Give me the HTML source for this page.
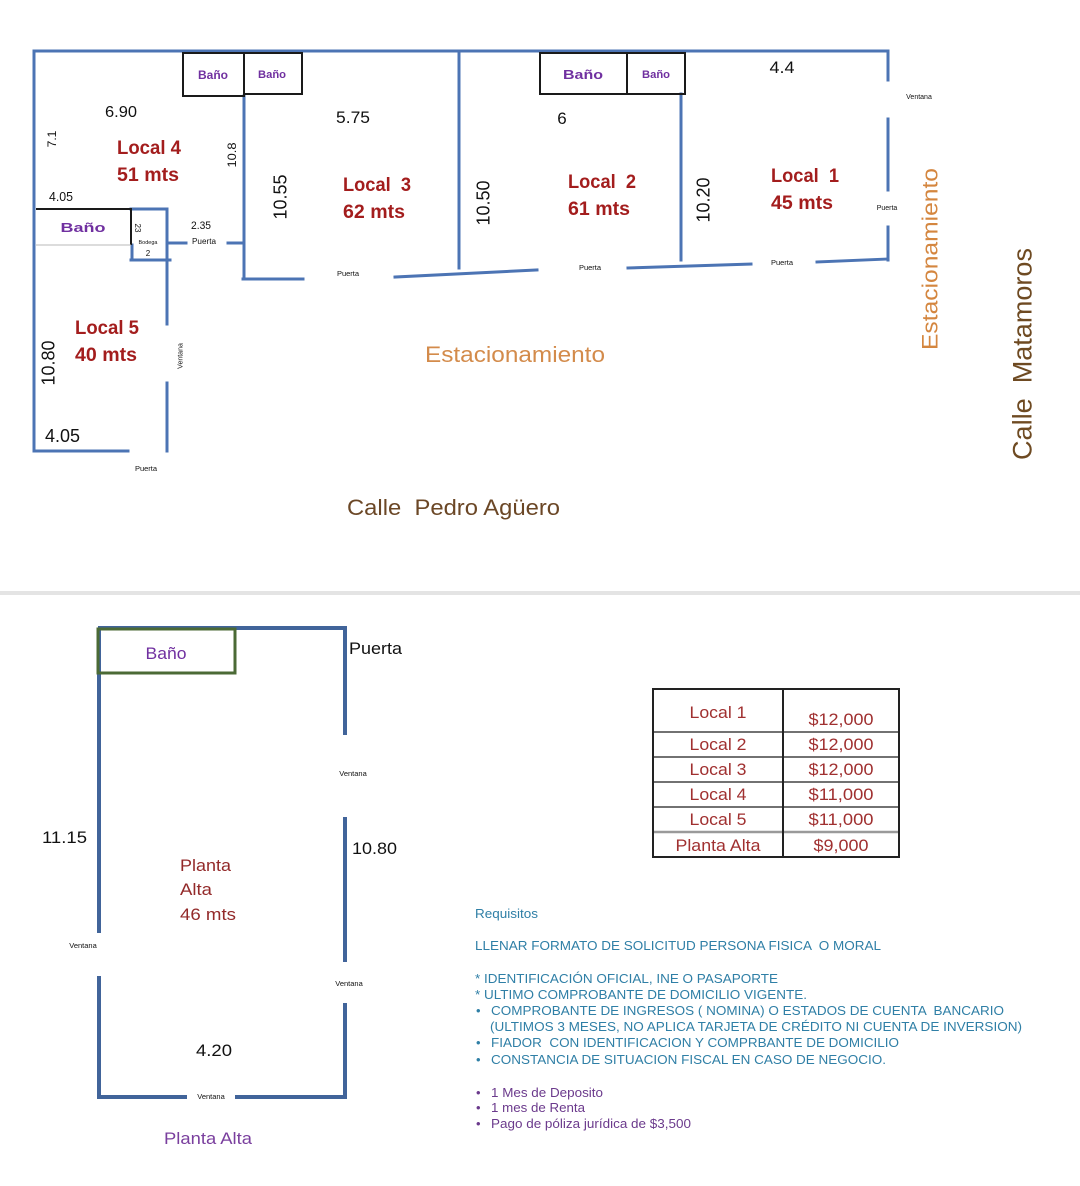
<!DOCTYPE html>
<html>
<head>
<meta charset="utf-8">
<style>
  html,body{margin:0;padding:0;background:#fff;}
  svg{display:block;}
  text{font-family:"Liberation Sans", sans-serif;}
</style>
</head>
<body>
<svg width="1080" height="1186" viewBox="0 0 1080 1186" xmlns="http://www.w3.org/2000/svg">
  <rect x="0" y="0" width="1080" height="1186" fill="#ffffff"/>

  <!-- ============ TOP PLAN WALLS ============ -->
  <g stroke="#4c74b4" stroke-width="3" fill="none" stroke-linecap="square">
    <path d="M34,51 H888"/>
    <path d="M34,51 V451"/>
    <path d="M34,451 H128"/>
    <!-- bodega -->
    <path d="M131,209 H167"/>
    <path d="M132,245 V260"/>
    <path d="M131,260 H170"/>
    <path d="M167,209 V324"/>
    <path d="M167,383 V451"/>
    <path d="M167,243 H186"/>
    <path d="M228,243 H244"/>
    <!-- local 3 left -->
    <path d="M244,96 V279"/>
    <path d="M243,279 H303"/>
    <path d="M395,277 L537,270"/>
    <path d="M459,51 V268"/>
    <path d="M628,268 L751,264"/>
    <path d="M681,94 V260"/>
    <path d="M817,262 L888,259"/>
    <path d="M888,51 V80"/>
    <path d="M888,119 V190"/>
    <path d="M888,227 V260"/>
  </g>

  <!-- Baño boxes -->
  <g stroke="#1a1a1a" stroke-width="2" fill="none">
    <rect x="183" y="53" width="61" height="43"/>
    <rect x="244" y="53" width="58" height="41"/>
    <rect x="540" y="53" width="87" height="41"/>
    <rect x="627" y="53" width="58" height="41"/>
    <path d="M36,209 H131 V245"/>
  </g>
  <path d="M36,245 H131" stroke="#b8b8b8" stroke-width="1"/>

  <g fill="#7030a0" font-weight="bold" text-anchor="middle">
    <text x="213" y="79" font-size="12" textLength="30" lengthAdjust="spacingAndGlyphs">Baño</text>
    <text x="272" y="78" font-size="11" textLength="28" lengthAdjust="spacingAndGlyphs">Baño</text>
    <text x="583" y="79" font-size="13" textLength="40" lengthAdjust="spacingAndGlyphs">Baño</text>
    <text x="656" y="78" font-size="11" textLength="28" lengthAdjust="spacingAndGlyphs">Baño</text>
    <text x="83" y="232" font-size="13" textLength="45" lengthAdjust="spacingAndGlyphs">Baño</text>
  </g>

  <!-- dimensions (black) -->
  <g fill="#111">
    <text x="121" y="117" font-size="16" text-anchor="middle" textLength="32" lengthAdjust="spacingAndGlyphs">6.90</text>
    <text transform="translate(52,139) rotate(-90)" font-size="12" text-anchor="middle" dy="0.35em">7.1</text>
    <text transform="translate(232,155) rotate(-90)" font-size="12" text-anchor="middle" dy="0.35em" textLength="25" lengthAdjust="spacingAndGlyphs">10.8</text>
    <text transform="translate(280,197) rotate(-90)" font-size="18" text-anchor="middle" dy="0.35em" textLength="45" lengthAdjust="spacingAndGlyphs">10.55</text>
    <text x="49" y="201" font-size="13" textLength="24" lengthAdjust="spacingAndGlyphs">4.05</text>
    <text transform="translate(138,228) rotate(90)" font-size="8" text-anchor="middle" dy="0.35em">23</text>
    <text x="148" y="244" font-size="5.5" text-anchor="middle">Bodega</text>
    <text x="148" y="256" font-size="8" text-anchor="middle">2</text>
    <text x="201" y="229" font-size="11" text-anchor="middle" textLength="20" lengthAdjust="spacingAndGlyphs">2.35</text>
    <text x="204" y="244" font-size="8" text-anchor="middle" textLength="24" lengthAdjust="spacingAndGlyphs">Puerta</text>
    <text x="353" y="123" font-size="17" text-anchor="middle" textLength="34" lengthAdjust="spacingAndGlyphs">5.75</text>
    <text transform="translate(483,203) rotate(-90)" font-size="18" text-anchor="middle" dy="0.35em" textLength="45" lengthAdjust="spacingAndGlyphs">10.50</text>
    <text x="348" y="276" font-size="7.5" text-anchor="middle">Puerta</text>
    <text x="562" y="124" font-size="17" text-anchor="middle">6</text>
    <text x="590" y="270" font-size="7.5" text-anchor="middle">Puerta</text>
    <text x="782" y="73" font-size="17" text-anchor="middle" textLength="25" lengthAdjust="spacingAndGlyphs">4.4</text>
    <text transform="translate(703,200) rotate(-90)" font-size="18" text-anchor="middle" dy="0.35em" textLength="45" lengthAdjust="spacingAndGlyphs">10.20</text>
    <text x="782" y="265" font-size="7.5" text-anchor="middle">Puerta</text>
    <text x="919" y="99" font-size="7" text-anchor="middle">Ventana</text>
    <text x="887" y="210" font-size="7" text-anchor="middle">Puerta</text>
    <text transform="translate(48,363) rotate(-90)" font-size="18" text-anchor="middle" dy="0.35em" textLength="45" lengthAdjust="spacingAndGlyphs">10.80</text>
    <text x="45" y="442" font-size="18" textLength="35" lengthAdjust="spacingAndGlyphs">4.05</text>
    <text transform="translate(180,356) rotate(-90)" font-size="7" text-anchor="middle" dy="0.35em">Ventana</text>
    <text x="146" y="471" font-size="7.5" text-anchor="middle">Puerta</text>
  </g>

  <!-- Local labels -->
  <g fill="#a31d1d" font-weight="bold" font-size="19">
    <text x="117" y="154" textLength="64" lengthAdjust="spacingAndGlyphs">Local 4</text>
    <text x="117" y="181" textLength="62" lengthAdjust="spacingAndGlyphs">51 mts</text>
    <text x="343" y="191" textLength="68" lengthAdjust="spacingAndGlyphs" xml:space="preserve">Local  3</text>
    <text x="343" y="218" textLength="62" lengthAdjust="spacingAndGlyphs">62 mts</text>
    <text x="568" y="188" textLength="68" lengthAdjust="spacingAndGlyphs" xml:space="preserve">Local  2</text>
    <text x="568" y="215" textLength="62" lengthAdjust="spacingAndGlyphs">61 mts</text>
    <text x="771" y="182" textLength="68" lengthAdjust="spacingAndGlyphs" xml:space="preserve">Local  1</text>
    <text x="771" y="209" textLength="62" lengthAdjust="spacingAndGlyphs">45 mts</text>
    <text x="75" y="334" textLength="64" lengthAdjust="spacingAndGlyphs">Local 5</text>
    <text x="75" y="361" textLength="62" lengthAdjust="spacingAndGlyphs">40 mts</text>
  </g>

  <!-- Street / parking -->
  <text x="425" y="362" font-size="22" fill="#d38b4b" textLength="180" lengthAdjust="spacingAndGlyphs">Estacionamiento</text>
  <text transform="translate(930,259) rotate(-90)" font-size="22" fill="#d4863f" text-anchor="middle" dy="0.35em" textLength="182" lengthAdjust="spacingAndGlyphs">Estacionamiento</text>
  <text transform="translate(1022,354) rotate(-90)" font-size="27" fill="#6e4a22" text-anchor="middle" dy="0.35em" textLength="212" lengthAdjust="spacingAndGlyphs" xml:space="preserve">Calle  Matamoros</text>
  <text x="347" y="515" font-size="22" fill="#6b4726" textLength="213" lengthAdjust="spacingAndGlyphs" xml:space="preserve">Calle  Pedro Agüero</text>

  <!-- separator -->
  <rect x="0" y="591" width="1080" height="4" fill="#e4e4e4"/>

  <!-- ============ BOTTOM PLAN ============ -->
  <g stroke="#41649a" stroke-width="4" fill="none">
    <path d="M98,628 H345 V735"/>
    <path d="M345,817 V962"/>
    <path d="M345,1003 V1097 H235"/>
    <path d="M187,1097 H99 V976"/>
    <path d="M99,933 V628"/>
  </g>
  <rect x="98" y="629" width="137" height="44" stroke="#4b6a35" stroke-width="3" fill="none"/>
  <text x="166" y="659" font-size="17" fill="#7030a0" text-anchor="middle" textLength="41" lengthAdjust="spacingAndGlyphs">Baño</text>

  <g fill="#111">
    <text x="349" y="654" font-size="17" textLength="53" lengthAdjust="spacingAndGlyphs">Puerta</text>
    <text x="353" y="776" font-size="7.5" text-anchor="middle">Ventana</text>
    <text x="42" y="843" font-size="17" textLength="45" lengthAdjust="spacingAndGlyphs">11.15</text>
    <text x="352" y="854" font-size="17" textLength="45" lengthAdjust="spacingAndGlyphs">10.80</text>
    <text x="83" y="948" font-size="7.5" text-anchor="middle">Ventana</text>
    <text x="349" y="986" font-size="7.5" text-anchor="middle">Ventana</text>
    <text x="196" y="1056" font-size="17" textLength="36" lengthAdjust="spacingAndGlyphs">4.20</text>
    <text x="211" y="1099" font-size="7.5" text-anchor="middle">Ventana</text>
  </g>
  <g fill="#932a2a" font-size="17">
    <text x="180" y="871" textLength="51" lengthAdjust="spacingAndGlyphs">Planta</text>
    <text x="180" y="895" textLength="32" lengthAdjust="spacingAndGlyphs">Alta</text>
    <text x="180" y="920" textLength="56" lengthAdjust="spacingAndGlyphs">46 mts</text>
  </g>
  <text x="164" y="1144" font-size="17" fill="#7a3f9e" textLength="88" lengthAdjust="spacingAndGlyphs">Planta Alta</text>

  <!-- ============ TABLE ============ -->
  <g fill="none">
    <path d="M653,732 H899 M653,757 H899 M653,782 H899 M653,807 H899" stroke="#444" stroke-width="1.5"/>
    <path d="M653,832 H899" stroke="#9a9a9a" stroke-width="2.5"/>
    <path d="M783,689 V857" stroke="#222" stroke-width="2"/>
    <rect x="653" y="689" width="246" height="168" stroke="#222" stroke-width="2"/>
  </g>
  <g fill="#a03030" font-size="17" text-anchor="middle">
    <text x="718" y="718" textLength="57" lengthAdjust="spacingAndGlyphs">Local 1</text>
    <text x="841" y="725" textLength="65" lengthAdjust="spacingAndGlyphs">$12,000</text>
    <text x="718" y="750" textLength="57" lengthAdjust="spacingAndGlyphs">Local 2</text>
    <text x="841" y="750" textLength="65" lengthAdjust="spacingAndGlyphs">$12,000</text>
    <text x="718" y="775" textLength="57" lengthAdjust="spacingAndGlyphs">Local 3</text>
    <text x="841" y="775" textLength="65" lengthAdjust="spacingAndGlyphs">$12,000</text>
    <text x="718" y="800" textLength="57" lengthAdjust="spacingAndGlyphs">Local 4</text>
    <text x="841" y="800" textLength="65" lengthAdjust="spacingAndGlyphs">$11,000</text>
    <text x="718" y="825" textLength="57" lengthAdjust="spacingAndGlyphs">Local 5</text>
    <text x="841" y="825" textLength="65" lengthAdjust="spacingAndGlyphs">$11,000</text>
    <text x="718" y="851" textLength="85" lengthAdjust="spacingAndGlyphs">Planta Alta</text>
    <text x="841" y="851" textLength="55" lengthAdjust="spacingAndGlyphs">$9,000</text>
  </g>

  <!-- ============ REQUIREMENTS ============ -->
  <g fill="#2f7fa6" font-size="13">
    <text x="475" y="918" font-size="12.5" textLength="63" lengthAdjust="spacingAndGlyphs">Requisitos</text>
    <text x="475" y="950" textLength="406" lengthAdjust="spacingAndGlyphs" xml:space="preserve">LLENAR FORMATO DE SOLICITUD PERSONA FISICA  O MORAL</text>
    <text x="475" y="983" textLength="303" lengthAdjust="spacingAndGlyphs">* IDENTIFICACIÓN OFICIAL, INE O PASAPORTE</text>
    <text x="475" y="999" textLength="332" lengthAdjust="spacingAndGlyphs">* ULTIMO COMPROBANTE DE DOMICILIO VIGENTE.</text>
    <text x="476" y="1015">•</text>
    <text x="491" y="1015" textLength="513" lengthAdjust="spacingAndGlyphs" xml:space="preserve">COMPROBANTE DE INGRESOS ( NOMINA) O ESTADOS DE CUENTA  BANCARIO</text>
    <text x="490" y="1031" textLength="532" lengthAdjust="spacingAndGlyphs">(ULTIMOS 3 MESES, NO APLICA TARJETA DE CRÉDITO NI CUENTA DE INVERSION)</text>
    <text x="476" y="1047">•</text>
    <text x="491" y="1047" textLength="408" lengthAdjust="spacingAndGlyphs" xml:space="preserve">FIADOR  CON IDENTIFICACION Y COMPRBANTE DE DOMICILIO</text>
    <text x="476" y="1064">•</text>
    <text x="491" y="1064" textLength="395" lengthAdjust="spacingAndGlyphs">CONSTANCIA DE SITUACION FISCAL EN CASO DE NEGOCIO.</text>
  </g>
  <g fill="#6b3a8c" font-size="13">
    <text x="476" y="1097">•</text>
    <text x="491" y="1097" textLength="112" lengthAdjust="spacingAndGlyphs">1 Mes de Deposito</text>
    <text x="476" y="1112">•</text>
    <text x="491" y="1112" textLength="94" lengthAdjust="spacingAndGlyphs">1 mes de Renta</text>
    <text x="476" y="1128">•</text>
    <text x="491" y="1128" textLength="200" lengthAdjust="spacingAndGlyphs">Pago de póliza jurídica de $3,500</text>
  </g>
</svg>
</body>
</html>
